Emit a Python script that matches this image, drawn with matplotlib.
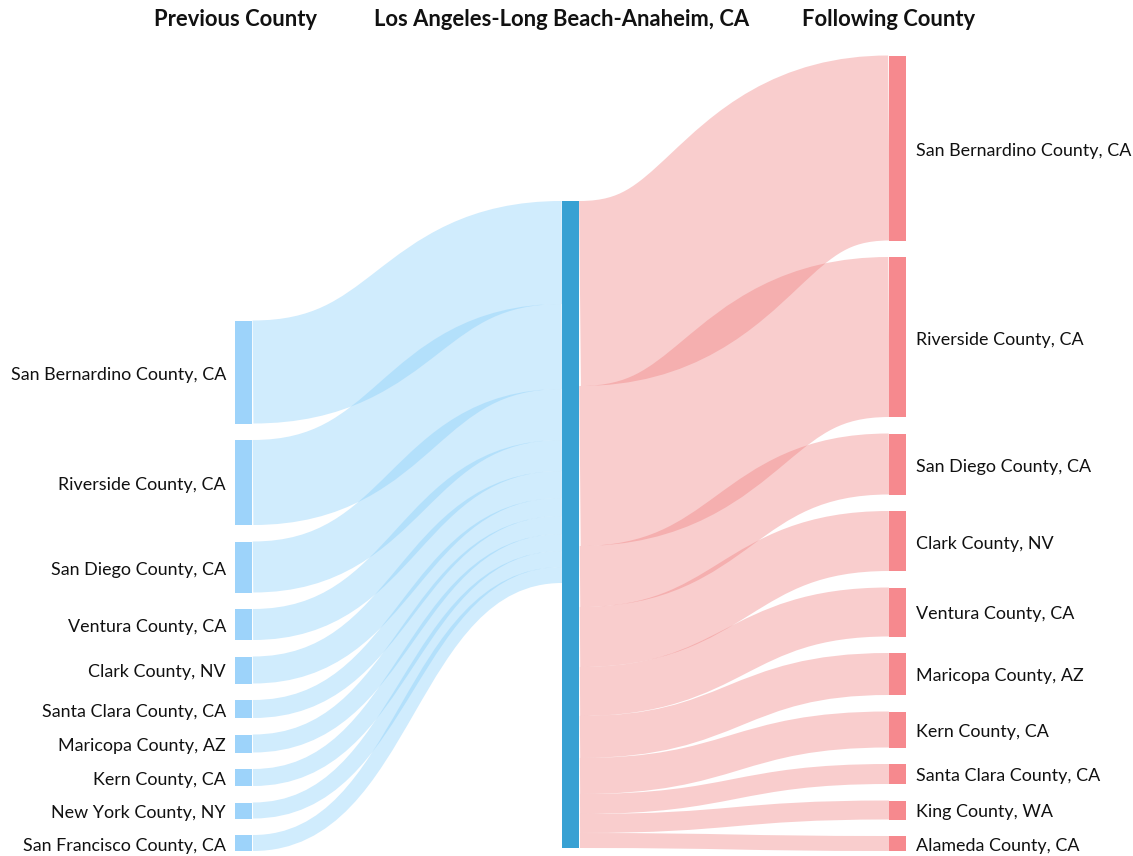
import matplotlib
matplotlib.use("Agg")
import matplotlib.pyplot as plt
from matplotlib.path import Path
from matplotlib.patches import PathPatch, Rectangle

# ---------------- data ----------------
center_name = "Los Angeles-Long Beach-Anaheim, CA"
prev_counties = ["San Bernardino County, CA", "Riverside County, CA", "San Diego County, CA",
                 "Ventura County, CA", "Clark County, NV", "Santa Clara County, CA",
                 "Maricopa County, AZ", "Kern County, CA", "New York County, NY",
                 "San Francisco County, CA"]
prev_values = [103, 85, 51, 31, 27, 18, 18, 17, 16, 16]
next_counties = ["San Bernardino County, CA", "Riverside County, CA", "San Diego County, CA",
                 "Clark County, NV", "Ventura County, CA", "Maricopa County, AZ",
                 "Kern County, CA", "Santa Clara County, CA", "King County, WA",
                 "Alameda County, CA"]
next_values = [185, 160, 61, 60, 49, 42, 36, 20, 19, 15]
column_titles = ["Previous County", center_name, "Following County"]

# ---------------- layout ----------------
W, H, DPI = 1133, 856, 100
node_w = 17
col_x = [235, 562, 889]
pad = 16.5
scale = 1.0          # px per unit
bottom = 851
center_top = 201

left_blue_node = "#9dd3fa"
center_node_c = "#38a1d3"
right_node_c = "#f6898e"
blue_link = "#87cefa"
pink_link = "#f08080"
link_alpha = 0.39

plt.rcParams["font.family"] = ["Lato", "DejaVu Sans"]

fig = plt.figure(figsize=(W / DPI, H / DPI), dpi=DPI)
ax = fig.add_axes([0, 0, 1, 1])
ax.set_xlim(0, W)
ax.set_ylim(H, 0)
ax.axis("off")


def stack(values, bottom_y):
    total = sum(values) * scale + pad * (len(values) - 1)
    y = bottom_y - total
    out = []
    for v in values:
        h = v * scale
        out.append((y, y + h))
        y += h + pad
    return out


def link(x0, y0, x1, y1, w, color):
    xm = (x0 + x1) / 2
    p = Path([(x0, y0), (xm, y0), (xm, y1), (x1, y1)],
             [Path.MOVETO, Path.CURVE4, Path.CURVE4, Path.CURVE4])
    patch = PathPatch(p, fill=False, lw=w * 72 / DPI, edgecolor=color,
                      alpha=link_alpha, capstyle="butt")
    ax.add_patch(patch)


left_pos = stack(prev_values, bottom)
right_pos = stack(next_values, bottom)
center_h = max(sum(prev_values), sum(next_values)) * scale
center_pos = (center_top, center_top + center_h)

# links left -> center
yin = center_top
for (t, b), v in zip(left_pos, prev_values):
    w = v * scale
    link(col_x[0] + node_w + 1, (t + b) / 2, col_x[1], yin + w / 2, w, blue_link)
    yin += w

# links center -> right
yout = center_top
for (t, b), v in zip(right_pos, next_values):
    w = v * scale
    link(col_x[1] + node_w + 1, yout + w / 2, col_x[2], (t + b) / 2, w, pink_link)
    yout += w

# nodes
for (t, b) in left_pos:
    ax.add_patch(Rectangle((col_x[0], t), node_w, b - t, facecolor=left_blue_node, edgecolor="none"))
ax.add_patch(Rectangle((col_x[1], center_pos[0]), node_w, center_h, facecolor=center_node_c, edgecolor="none"))
for (t, b) in right_pos:
    ax.add_patch(Rectangle((col_x[2], t), node_w, b - t, facecolor=right_node_c, edgecolor="none"))

# labels
for (t, b), name in zip(left_pos, prev_counties):
    ax.text(col_x[0] - 9, (t + b) / 2 + 2.5, name, ha="right", va="center", fontsize=12.9, color="#111111")
for (t, b), name in zip(right_pos, next_counties):
    ax.text(col_x[2] + node_w + 10, (t + b) / 2 + 2.5, name, ha="left", va="center", fontsize=12.9, color="#111111")

for x, title in zip(col_x, column_titles):
    ax.text(x, 19.5, title, ha="center", va="center", fontsize=15.8, fontweight="bold", color="#111111")

fig.savefig("out.png", dpi=DPI)
